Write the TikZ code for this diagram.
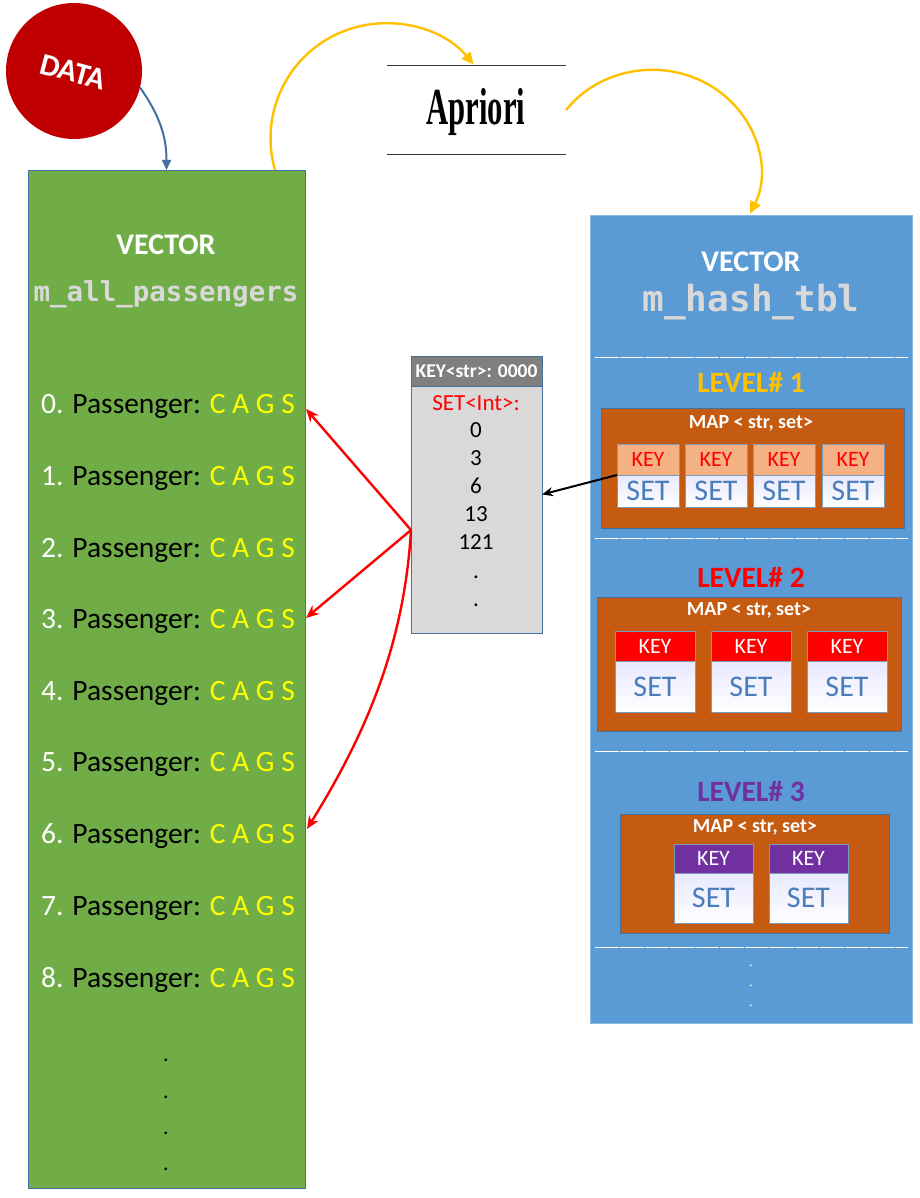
\documentclass[tikz,border=0pt]{standalone}
\usepackage{fontspec}
\setmainfont{Carlito}
\newfontfamily\monof{DejaVu Sans Mono}
\newfontfamily\aprif{Liberation Serif}
\usetikzlibrary{arrows.meta,calc}
\definecolor{vgreen}{HTML}{70AD47}
\definecolor{vblue}{HTML}{5B9BD5}
\definecolor{edgeblue}{HTML}{41719C}
\definecolor{datared}{HTML}{C00000}
\definecolor{gold}{HTML}{FFC000}
\definecolor{mapbrown}{HTML}{C55A11}
\definecolor{salmon}{HTML}{F4B183}
\definecolor{setblue}{HTML}{4A7EBB}
\definecolor{purp}{HTML}{7030A0}
\definecolor{lgray}{HTML}{D9D9D9}
\definecolor{dgray}{HTML}{7F7F7F}
\definecolor{cags}{HTML}{FFFF00}
\newcommand{\fs}[1]{\fontsize{#1}{#1}\selectfont}
\tikzset{
  every node/.style={inner sep=0pt, outer sep=0pt},
  vecbox/.style={draw=edgeblue, line width=0.8pt, anchor=north west},
  hdr/.style={text=white, font=\bfseries\fs{30}},
  mono/.style={text=lgray, font=\monof\bfseries},
  pass/.style={font=\fs{29.5}},
  sepline/.style={draw=white, line width=0.8pt, dash pattern=on 24pt off 1pt},
  mapbox/.style={fill=mapbrown, draw=edgeblue, line width=0.6pt, anchor=north west},
  maplabel/.style={text=white, font=\bfseries\fs{20}},
  keycell/.style={draw=edgeblue!70, line width=0.6pt, anchor=north west},
  setcell/.style={draw=edgeblue!70, line width=0.6pt, anchor=north west, top color=blue!9, bottom color=white, text=setblue},
  lvl/.style={font=\bfseries\fs{29.5}},
  goldarrow/.style={draw=gold, line width=2.4pt, -{Triangle[length=12pt,width=11pt]}},
  redarrow/.style={draw=red, line width=2.4pt, -{Stealth[length=13pt,width=11pt]}},
  blkarrow/.style={draw=black, line width=2pt, -{Stealth[length=11pt,width=9pt]}},
  numtxt/.style={font=\fs{23}},
}
\begin{document}
\begin{tikzpicture}[x=1pt,y=-1pt]
\useasboundingbox (0,0) rectangle (919,1198);
% left vector
\node[vecbox, fill=vgreen, minimum width=277pt, minimum height=1018pt] (vec1) at (28,170) {};
\node[hdr] (v1t) at (166,245) {VECTOR};
\node[mono, font=\monof\bfseries\fs{27.5}] (v1n) at (166,294) {m\_all\_passengers};
\foreach \i/\y in {0/406,1/478,2/550,3/621,4/693,5/764,6/836,7/908,8/980}{
  \node[pass] (p\i) at (168,\y) {\textcolor{white}{\i.} Passenger: \textcolor{cags}{C A G S}};
}
\foreach \j/\y in {1/1057,2/1094,3/1130,4/1166}{
  \node[font=\fs{22}] (d\j) at (166,\y+3) {.};
}
% DATA
\node[circle, fill=datared, minimum size=136pt] (data) at (74,71) {};
\node[text=white, font=\bfseries\fs{31}, rotate=-15] (datat) at (73,72) {DATA};
\draw[draw=edgeblue, line width=2pt, -{Triangle[length=10pt,width=9pt]}] (data.-14) to[out=-55,in=90] (vec1.north);
% Apriori
\node[minimum width=179pt, minimum height=89pt] (apri) at (476.5,109.5) {};
\node[font=\aprif\bfseries\fs{52}] (aprit) at (476,112) {\scalebox{0.59}[1]{Apriori}};
\draw[line width=0.8pt, black!80] (apri.north west) -- (apri.north east);
\draw[line width=0.8pt, black!80] (apri.south west) -- (apri.south east);
% right vector
\node[vecbox, draw=vblue!70!white, fill=vblue, minimum width=322pt, minimum height=808pt] (vec2) at (590,215) {};
\node[hdr] (v2t) at (751,262) {VECTOR};
\node[mono, font=\monof\bfseries\fs{36}] (v2n) at (751,302) {m\_hash\_tbl};
\foreach \y in {357,538,751,947}{
  \draw[sepline] (595,\y) -- (908,\y);
}
% level 1
\node[lvl, text=gold] (l1) at (751,382) {LEVEL\# 1};
\node[mapbox, minimum width=303pt, minimum height=120pt] (map1) at (601,408) {};
\node[maplabel] (ml1) at (751,423) {MAP < str, set>};
\foreach \k/\x in {1/617,2/685,3/753,4/822}{
  \node[keycell, fill=salmon, text=red, font=\fs{22}, minimum width=62pt, minimum height=31pt] (ka\k) at (\x,444) {KEY};
  \node[setcell, font=\fs{30}, minimum width=62pt, minimum height=32pt] (sa\k) at (\x,475) {SET};
}
% level 2
\node[lvl, text=red] (l2) at (751,577) {LEVEL\# 2};
\node[mapbox, minimum width=304pt, minimum height=134pt] (map2) at (597,597) {};
\node[maplabel] (ml2) at (749,610) {MAP < str, set>};
\foreach \k/\x in {1/615,2/711,3/807}{
  \node[keycell, fill=red, text=white, font=\fs{22}, minimum width=80pt, minimum height=30pt] (kb\k) at (\x,631) {KEY};
  \node[setcell, font=\fs{30}, minimum width=80pt, minimum height=51pt] (sb\k) at (\x,661) {SET};
}
% level 3
\node[lvl, text=purp] (l3) at (751,792) {LEVEL\# 3};
\node[mapbox, minimum width=269pt, minimum height=119pt] (map3) at (620,814) {};
\node[maplabel] (ml3) at (755,827) {MAP < str, set>};
\foreach \k/\x in {1/674,2/769}{
  \node[keycell, fill=purp, text=white, font=\fs{22}, minimum width=79pt, minimum height=29pt] (kc\k) at (\x,844) {KEY};
  \node[setcell, font=\fs{30}, minimum width=79pt, minimum height=50pt] (sc\k) at (\x,873) {SET};
}
\foreach \j/\y in {1/964,2/984,3/1004}{
  \node[text=white, font=\fs{14}] (e\j) at (751,\y+2) {.};
}
% middle key/set box
\node[draw=edgeblue, line width=0.8pt, fill=lgray, minimum width=131pt, minimum height=277pt] (midbox) at (476.5,494.5) {};
\node[fill=dgray, draw=edgeblue, line width=0.8pt, minimum width=131pt, minimum height=30pt, anchor=north] (midhdr) at (midbox.north) {};
\node[text=white, font=\bfseries\fs{19.5}] (midhdrt) at (midhdr) {KEY<str>: 0000};
\node[numtxt, text=red] (setl) at (476,403) {SET<Int>:};
\foreach \n/\v/\y in {a/0/430,b/3/458,c/6/486,d/13/514,e/121/542}{
  \node[numtxt] (n\n) at (476,\y) {\v};
}
\node[numtxt] (nf) at (476,577) {.};
\node[numtxt] (ng) at (476,605) {.};
% connectors
\coordinate (o1) at (275,170);
\draw[goldarrow] (o1) arc[start angle=164, end angle=320, radius=115];
\coordinate (o2) at (566,110);
\draw[goldarrow] (o2) arc[start angle=217, end angle=385, x radius=108, y radius=101];
\draw[blkarrow] (ka1.south west) -- (midbox.east);
\coordinate (fan) at (411,530);
\draw[redarrow] (fan) -- ($(vec1.east |- p0)+(1,3)$);
\draw[redarrow] (fan) -- ($(vec1.east |- p3)+(1,-3)$);
\draw[redarrow] (fan) .. controls (404,650) and (362,740) .. ($(vec1.east |- p6)+(2,-7)$);
\end{tikzpicture}
\end{document}
